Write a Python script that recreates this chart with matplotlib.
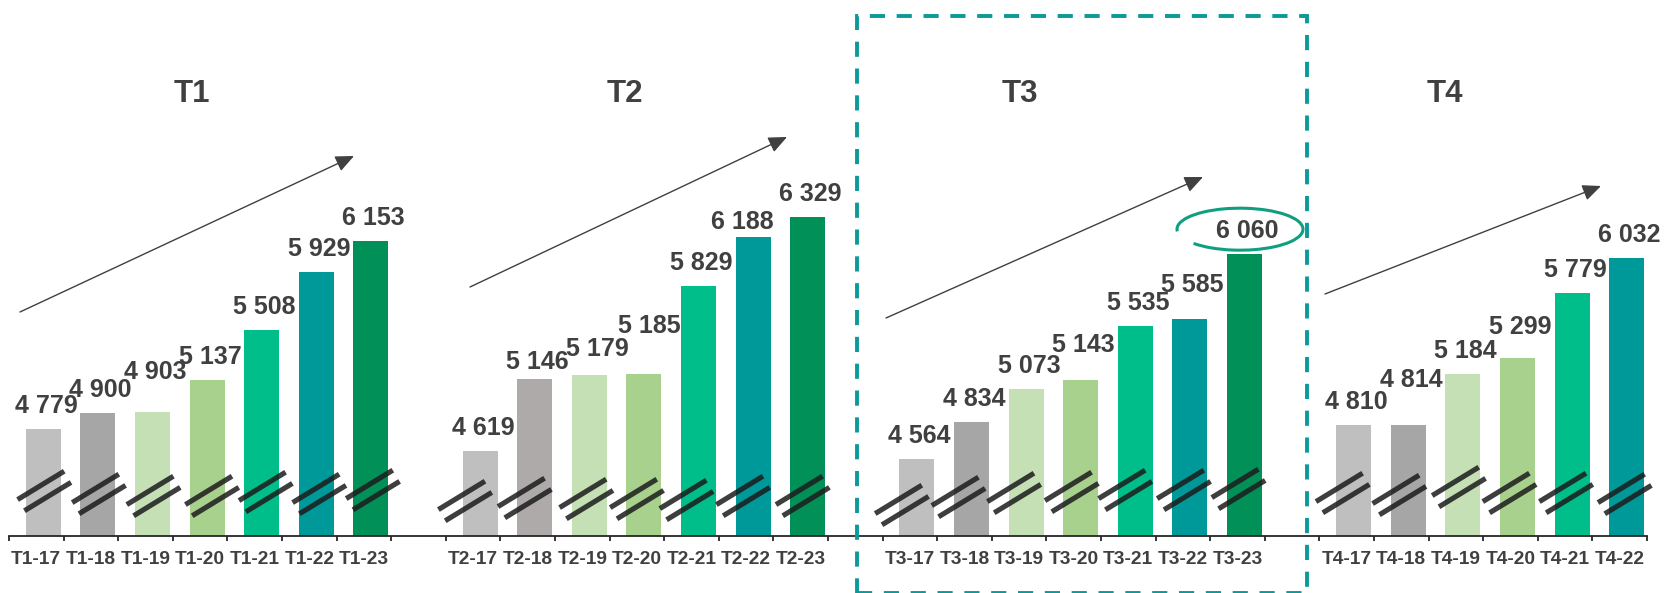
import numpy as np
import matplotlib
matplotlib.use("Agg")
import matplotlib.pyplot as plt
from matplotlib.lines import Line2D
from matplotlib.patches import Rectangle, Arc, FancyArrowPatch
from matplotlib.transforms import IdentityTransform

# -------------------------------------------------------------------
# values per quarter, years 2017 -> 2023 (T4 stops at 2022)
# -------------------------------------------------------------------
periods = ["T1", "T2", "T3", "T4"]
years = ["17", "18", "19", "20", "21", "22", "23"]
t1_values = [4779, 4900, 4903, 5137, 5508, 5929, 6153]
t2_values = [4619, 5146, 5179, 5185, 5829, 6188, 6329]
t3_values = [4564, 4834, 5073, 5143, 5535, 5585, 6060]
t4_values = [4810, 4814, 5184, 5299, 5779, 6032]
all_values = [t1_values, t2_values, t3_values, t4_values]
y_floor = 4000   # axis is cut, bars start at 4 000
highlight = ("T3", "23")

# colours by year
year_colors = ["#BFBFBF", "#A6A6A6", "#C5E0B4", "#A9D18E", "#00BE8A", "#009999", "#009058"]
color_override = {("T2", "18"): "#AEAAAA"}
TXT = "#404040"

# label nudges in pixels (dx, dy) where labels would collide
label_nudge = {
    ("T1", "19"): (0, 17),
    ("T2", "18"): (0, -6), ("T2", "19"): (5, 3), ("T2", "20"): (3, 25), ("T2", "22"): (-14, -8),
    ("T3", "20"): (0, 12), ("T3", "22"): (0, 11),
    ("T4", "18"): (0, 22), ("T4", "20"): (0, 8),
}
# axis-break marks: horizontal shift from bar centre and height above axis (pixels)
break_dx = [[1, 1, 1, 5, 4, 3, 2], [-15, -10, -3, -7, -12, -10, -5],
            [-15, -13, -12, -9, -10, -6, -6], [-11, -9, -4, -8, -6, -2]]
break_h = [[45, 42, 40, 40, 44, 42, 46], [35, 38, 37, 37, 36, 40, 40],
           [31, 39, 43, 44, 46, 46, 47], [43, 41, 49, 43, 43, 42]]
# trend arrows, figure pixels measured from the top-left
arrows_px = [((20, 312), (354, 156)), ((470, 287), (787, 137)),
             ((886, 318), (1203, 177)), ((1325, 294), (1601, 186))]
title_x_px = [192, 625, 1020, 1445]

plt.rcParams["font.family"] = ["Liberation Sans", "DejaVu Sans"]

W, H = 1665, 593
fig = plt.figure(figsize=(W / 100, H / 100), dpi=100)
ax = fig.add_axes([9 / W, 57 / H, 1638 / W, 536 / H])
ax.set_xlim(-0.5, 29.5)
ax.set_ylim(y_floor, 7918)

bar_shift = 0.128
bar_width = 0.64

centers, labels, bars = [], [], []
slot = 0
for p, vals in zip(periods, all_values):
    for j, v in enumerate(vals):
        yr = years[j]
        x = slot + j
        centers.append(x)
        labels.append(f"{p}-{yr}")
        col = color_override.get((p, yr), year_colors[j])
        ax.bar(x + bar_shift, v - y_floor, bottom=y_floor, width=bar_width, color=col, zorder=2)
        dx, dy = label_nudge.get((p, yr), (0, 0))
        ax.annotate(f"{v:,}".replace(",", " "), (x + bar_shift, v),
                    xytext=(2.8 + dx, 16 + dy), textcoords="offset pixels",
                    ha="center", va="baseline", fontsize=18, fontweight="bold", color=TXT)
        bars.append((p, yr, x + bar_shift, v))
    slot += len(vals) + 1

ax.set_xticks(centers, labels)
ax.set_xticks(np.arange(-0.5, 30, 1), minor=True)
ax.tick_params(axis="x", which="major", length=0, pad=10.5, labelsize=13.8, labelcolor=TXT)
for t in ax.get_xticklabels():
    t.set_fontweight("bold")
ax.tick_params(axis="x", which="minor", length=3.6, width=1.3, color="#262626", direction="out")
ax.set_yticks([])
for s in ["top", "left", "right"]:
    ax.spines[s].set_visible(False)
ax.spines["bottom"].set_color("#262626")
ax.spines["bottom"].set_linewidth(1.3)
ax.patch.set_alpha(0)

# double-slash axis-break marks on every bar
ident = IdentityTransform()
k = 0
for gi, vals in enumerate(all_values):
    for j in range(len(vals)):
        _, _, bx, _ = bars[k]
        k += 1
        cx, cy = ax.transData.transform((bx, y_floor))
        cx += break_dx[gi][j]
        cy += break_h[gi][j]
        for sgn in (-1, 1):
            ox, oy = cx + sgn * 3.4, cy - sgn * 5.6
            fig.add_artist(Line2D([ox - 23.3, ox + 23.3], [oy - 14.2, oy + 14.2],
                                  transform=ident, lw=3.7, color="#1c1c1c", alpha=0.85,
                                  solid_capstyle="butt", zorder=5))

# trend arrows
for (x0, y0), (x1, y1) in arrows_px:
    fig.add_artist(FancyArrowPatch((x0, H - y0), (x1, H - y1), transform=ident,
                                   arrowstyle="-|>,head_length=0.75,head_width=0.33",
                                   mutation_scale=15, lw=1.0, color=TXT,
                                   shrinkA=0, shrinkB=0, zorder=6))

# quarter titles
for p, xp in zip(periods, title_x_px):
    fig.text(xp / W, (H - 101.7) / H, p, ha="center", va="baseline",
             fontsize=22.5, fontweight="bold", color=TXT)

# dashed frame around T3
fig.add_artist(Rectangle((857.3, 0.5), 449.4, 576.5, transform=ident, fill=False,
                         edgecolor="#0A9A9A", lw=2.8, linestyle=(0, (3.9, 3.0)), zorder=7))

# hand-drawn ring around the highlighted value
for p, yr, bx, v in bars:
    if (p, yr) == highlight:
        ex, ey = ax.transData.transform((bx, v))
        fig.add_artist(Arc((ex - 4.5, ey + 25), 126, 42, theta1=197, theta2=182 + 360,
                           transform=ident, color="#0F9F80", lw=2.2, zorder=7))

fig.savefig("out.png", dpi=100)
